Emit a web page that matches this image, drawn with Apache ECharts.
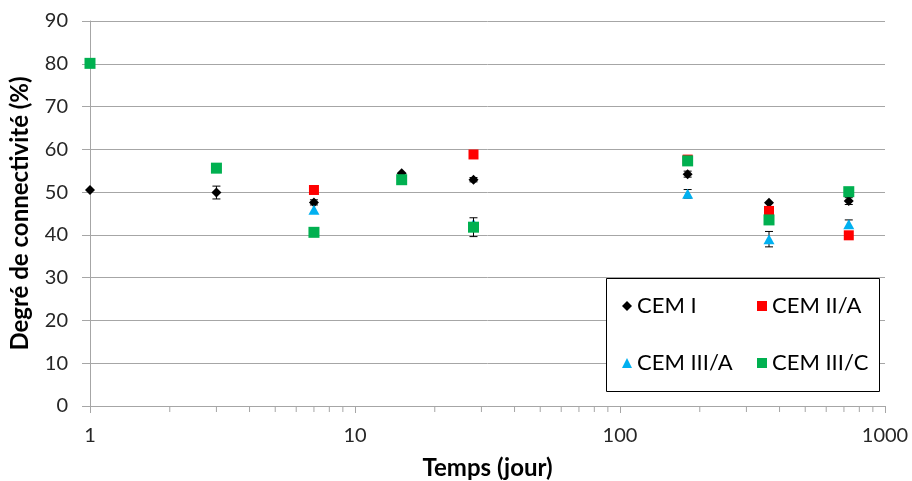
<!DOCTYPE html>
<html>
<head>
<meta charset="utf-8">
<script src="https://cdn.jsdelivr.net/npm/echarts@6/dist/echarts.min.js"></script>
<style>html,body{margin:0;padding:0;background:#fff}#c{width:912px;height:481px}</style>
</head>
<body>
<div id="c"></div>
<script>
// ---- data ----
const seriesNames = ['CEM I', 'CEM II/A', 'CEM III/A', 'CEM III/C'];
const cem1Days = [1, 3, 7, 15, 28, 180, 365, 730];
const cem1Values = [50.5, 49.9, 47.6, 54.4, 52.9, 54.2, 47.5, 47.9];
const cem1Err = [0, 1.5, 0.6, 0, 0.5, 0.7, 0, 0.8];
const cem2Days = [7, 28, 180, 365, 730];
const cem2Values = [50.5, 58.8, 57.6, 45.6, 39.9];
const cem2Err = [0, 0, 0, 0, 0];
const cem3aDays = [7, 28, 180, 365, 730];
const cem3aValues = [45.9, 42.6, 49.6, 39.0, 42.5];
const cem3aErr = [0, 0, 1.0, 1.8, 1.0];
const cem3cDays = [1, 3, 7, 15, 28, 180, 365, 730];
const cem3cValues = [80.1, 55.6, 40.6, 52.9, 41.8, 57.3, 43.5, 50.1];
const cem3cErr = [0, 0, 0, 0, 2.2, 0, 0, 0];
const yTicks = [0, 10, 20, 30, 40, 50, 60, 70, 80, 90];
const xMinorTicks = [2,3,4,5,6,7,8,9,20,30,40,50,60,70,80,90,200,300,400,500,600,700,800,900];

const FONT = 'Lato';
const colors = ['#000000', '#ff0000', '#00b0f0', '#00b050'];
const symbols = ['diamond', 'rect', 'triangle', 'rect'];
const sizes = [[10, 10], [10, 10], [11, 10], [11, 11]];

function pairs(d, v, e) { return d.map((x, i) => e ? [x, v[i], e[i]] : [x, v[i]]); }

function errRender(params, api) {
  const x = api.value(0), y = api.value(1), e = api.value(2);
  if (!e) return null;
  const t = api.coord([x, y + e]), b = api.coord([x, y - e]);
  const w = 4, st = { stroke: '#000', lineWidth: 1 };
  return { type: 'group', children: [
    { type: 'line', shape: { x1: t[0], y1: t[1], x2: b[0], y2: b[1] }, style: st },
    { type: 'line', shape: { x1: t[0] - w, y1: t[1], x2: t[0] + w, y2: t[1] }, style: st },
    { type: 'line', shape: { x1: b[0] - w, y1: b[1], x2: b[0] + w, y2: b[1] }, style: st }
  ]};
}

const all = [
  [cem1Days, cem1Values, cem1Err],
  [cem2Days, cem2Values, cem2Err],
  [cem3aDays, cem3aValues, cem3aErr],
  [cem3cDays, cem3cValues, cem3cErr]
];

const series = [];
all.forEach((s, i) => {
  series.push({
    type: 'custom', name: seriesNames[i] + ' err', data: pairs(s[0], s[1], s[2]),
    renderItem: errRender, silent: true, clip: false, z: 2 + i * 2
  });
  series.push({
    type: 'scatter', name: seriesNames[i], data: pairs(s[0], s[1]),
    symbol: symbols[i], symbolSize: sizes[i],
    itemStyle: { color: colors[i], opacity: 1 }, z: 3 + i * 2
  });
});
// minor ticks of the log axis
series.push({
  type: 'custom', name: 'minor', silent: true, clip: false,
  data: xMinorTicks.map(v => [v, 0]),
  renderItem: function (p, api) {
    const pt = api.coord([api.value(0), 0]);
    return { type: 'line', shape: { x1: pt[0], y1: pt[1], x2: pt[0], y2: pt[1] + 6 }, style: { stroke: '#a6a6a6', lineWidth: 1 } };
  }
});

const rowY = [306, 363];
const colX = [622, 757];
const legends = seriesNames.map((n, i) => ({
  data: [n], orient: 'horizontal', padding: 0,
  left: colX[i % 2], top: rowY[Math.floor(i / 2)] - 12,
  itemWidth: 10, itemHeight: 10, itemGap: 0,
  textStyle: { fontFamily: FONT, fontSize: 22, color: '#000', lineHeight: 24 },
  selectedMode: false, z: 10
}));

const chart = echarts.init(document.getElementById('c'), null, { renderer: 'canvas' });
chart.setOption({
  animation: false,
  backgroundColor: '#fff',
  textStyle: { fontFamily: FONT },
  grid: { left: 90, right: 27, top: 21, bottom: 75, containLabel: false, outerBoundsMode: 'none' },
  xAxis: {
    type: 'log', logBase: 10, min: 1, max: 1000,
    name: 'Temps (jour)', nameLocation: 'middle', nameGap: 50,
    nameTextStyle: { fontFamily: FONT, fontSize: 24, fontWeight: 'bold', color: '#000' },
    axisLine: { show: true, lineStyle: { color: '#a6a6a6', width: 1 } },
    axisTick: { show: true, length: 7, lineStyle: { color: '#a6a6a6' } },
    axisLabel: { fontFamily: FONT, fontSize: 20, color: '#262626', margin: 20,
      formatter: v => String(Math.round(v)) },
    splitLine: { show: false }
  },
  yAxis: {
    type: 'value', min: yTicks[0], max: yTicks[yTicks.length - 1], interval: 10,
    name: 'Degré de connectivité (%)', nameLocation: 'middle', nameGap: 58,
    nameTextStyle: { fontFamily: FONT, fontSize: 24, fontWeight: 'bold', color: '#000' },
    axisLine: { show: true, lineStyle: { color: '#a6a6a6', width: 1 } },
    axisTick: { show: true, length: 8, lineStyle: { color: '#a6a6a6' } },
    axisLabel: { fontFamily: FONT, fontSize: 20, color: '#262626', margin: 22 },
    splitLine: { show: true, lineStyle: { color: '#a6a6a6', width: 1 } }
  },
  legend: legends,
  graphic: [{
    type: 'rect', left: 606, top: 278, z: 8,
    shape: { width: 273, height: 113 },
    style: { fill: '#fff', stroke: '#000', lineWidth: 1 }
  }],
  series: series
});
</script>
</body>
</html>
